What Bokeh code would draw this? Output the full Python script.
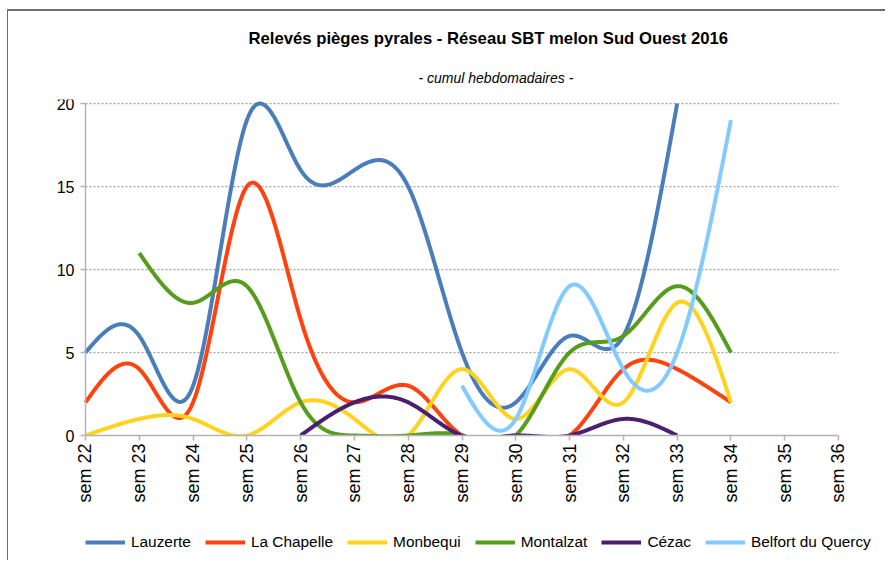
import math
import numpy as np
from bokeh.plotting import figure
from bokeh.models import (FixedTicker, Legend, LegendItem, Title, Range1d,
                          BoxAnnotation)
from bokeh.embed import file_html
from bokeh.resources import INLINE

# ---- data -------------------------------------------------------------
weeks = list(range(22, 37))
week_labels = ["sem %d" % w for w in weeks]
N = None
lauzerte = [5, 6, 3, 19, 16, 16, 15, 5, 2, 6, 6, 20, N, N, N]
la_chapelle = [2, 4, 2, 15, 7, 2, 3, 0, 0, 0, 4, 4, 2, N, N]
monbequi = [0, 1, 1, 0, 2, 1, 0, 4, 1, 4, 2, 8, 2, N, N]
montalzat = [N, 11, 8, 9, 2, 0, 0, 0, 0, 5, 6, 9, 5, N, N]
cezac = [N, N, N, N, 0, 2, 2, 0, 0, 0, 1, 0, N, N, N]
belfort = [N, N, N, N, N, N, N, 3, 1, 9, 4, 5, 19, N, N]

series_names = ["Lauzerte", "La Chapelle", "Monbequi", "Montalzat", "Cézac",
                "Belfort du Quercy"]
series_values = [lauzerte, la_chapelle, monbequi, montalzat, cezac, belfort]
series_colors = ["#4a7ebb", "#ff420e", "#ffd320", "#579d1c", "#4b1f6f", "#83caff"]
y_ticks = [0, 5, 10, 15, 20]

FONT = "Liberation Sans"


def natural_spline(xs, ys, n=60):
    xs = np.asarray(xs, float)
    ys = np.asarray(ys, float)
    k = len(xs)
    if k <= 2:
        return list(xs), list(ys)
    h = np.diff(xs)
    A = np.zeros((k, k))
    r = np.zeros(k)
    A[0, 0] = 1.0
    A[-1, -1] = 1.0
    for i in range(1, k - 1):
        A[i, i - 1] = h[i - 1]
        A[i, i] = 2 * (h[i - 1] + h[i])
        A[i, i + 1] = h[i]
        r[i] = 6 * ((ys[i + 1] - ys[i]) / h[i] - (ys[i] - ys[i - 1]) / h[i - 1])
    M = np.linalg.solve(A, r)
    out_x, out_y = [], []
    for i in range(k - 1):
        t = np.linspace(0, 1, n, endpoint=(i == k - 2))
        a = 1 - t
        b = t
        x = xs[i] + t * h[i]
        y = a * ys[i] + b * ys[i + 1] + ((a ** 3 - a) * M[i] + (b ** 3 - b) * M[i + 1]) * h[i] ** 2 / 6
        out_x.extend(x.tolist())
        out_y.extend(y.tolist())
    return out_x, out_y


def smooth_series(vals):
    xs_all, ys_all = [], []
    seg_x, seg_y = [], []
    for w, v in list(zip(weeks, vals)) + [(None, None)]:
        if v is None:
            if seg_x:
                sx, sy = natural_spline(seg_x, seg_y)
                if xs_all:
                    xs_all.append(float("nan"))
                    ys_all.append(float("nan"))
                xs_all.extend(sx)
                ys_all.extend(sy)
            seg_x, seg_y = [], []
        else:
            seg_x.append(w)
            seg_y.append(v)
    return xs_all, ys_all


# ---- figure -----------------------------------------------------------
# the frame is larger than the chart area so that the axes (placed at x=22
# and y=0) and the legend are drawn inside it; below 0 is masked white
p = figure(frame_width=835, frame_height=461, output_backend="svg",
           toolbar_location=None, title=None,
           x_range=Range1d(21.3493, 36.8738), y_range=Range1d(-7.53, 20.25),
           min_border_left=42, min_border_right=0,
           min_border_top=88, min_border_bottom=0)
p.styles = {"margin-left": "7px", "margin-top": "9px",
            "border-top": "2px solid #6e6e6e", "border-left": "1px solid #6e6e6e"}
p.outline_line_color = None
p.background_fill_color = "white"
p.border_fill_color = "white"

sub = Title(text="- cumul hebdomadaires -", align="left", offset=368,
            text_font=FONT, text_font_size="14px", text_font_style="italic",
            text_color="#000000", standoff=27)
p.add_layout(sub, "above")
main = Title(text="Relevés pièges pyrales - Réseau SBT melon Sud Ouest 2016",
             align="left", offset=198, text_font=FONT, text_font_size="16.7px",
             text_font_style="bold", text_color="#000000", standoff=14)
p.add_layout(main, "above")

# axes
p.xaxis.ticker = FixedTicker(ticks=weeks)
p.xaxis.major_label_overrides = {w: lab for w, lab in zip(weeks, week_labels)}
p.xaxis.major_label_orientation = math.pi / 2
p.xaxis.fixed_location = 0
p.xaxis.bounds = (22, 36)
p.yaxis.ticker = FixedTicker(ticks=y_ticks)
p.yaxis.fixed_location = 22
p.yaxis.bounds = (0, 20)
for ax in (p.xaxis, p.yaxis):
    ax.axis_line_color = "#b3b3b3"
    ax.axis_line_width = 1.5
    ax.major_tick_line_color = "#b3b3b3"
    ax.major_tick_line_width = 1.5
    ax.major_tick_out = 5
    ax.major_tick_in = 0
    ax.minor_tick_line_color = None
    ax.major_label_text_font = FONT
    ax.major_label_text_color = "#000000"
p.yaxis.major_label_text_font_size = "16px"
p.xaxis.major_label_text_font_size = "18px"
p.yaxis.major_label_standoff = 6
p.xaxis.major_label_standoff = 3

# horizontal dotted grid lines limited to the week span
p.xgrid.grid_line_color = None
p.ygrid.grid_line_color = None
grid_y = [t for t in y_ticks if t > 0]
p.segment(x0=[weeks[0]] * len(grid_y), y0=grid_y,
          x1=[weeks[-1]] * len(grid_y), y1=grid_y,
          line_color="#a0a0a0", line_dash="2 2", line_width=1.2,
          level="underlay")

items = []
for name, vals, col in zip(series_names, series_values, series_colors):
    xs, ys = smooth_series(vals)
    r = p.line(xs, ys, line_color=col, line_width=4, line_join="round")
    items.append(LegendItem(label=name, renderers=[r]))

# mask below the zero line (plays the role of the plot-area clipping)
mask = BoxAnnotation(top=0, fill_color="white", fill_alpha=1.0,
                     line_color=None, level="glyph")
p.add_layout(mask)

legend = Legend(items=items, orientation="horizontal", location=(35, 8),
                glyph_width=40, glyph_height=20, label_standoff=6, spacing=14,
                label_text_font=FONT, label_text_font_size="15.4px",
                label_text_color="#000000", border_line_color=None,
                background_fill_alpha=0, padding=0, margin=0)
p.add_layout(legend)

open("out.html", "w").write(file_html(p, INLINE))
